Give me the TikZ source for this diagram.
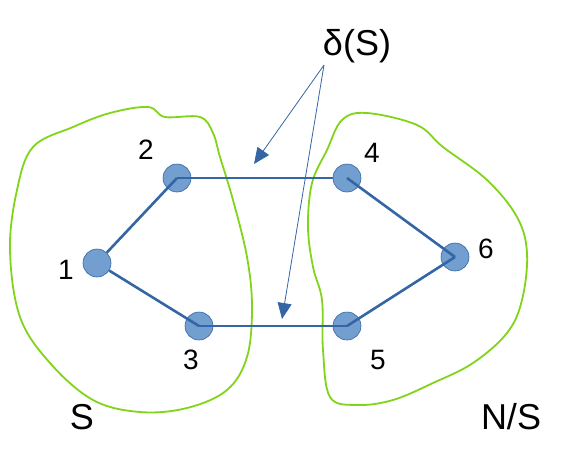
\documentclass[tikz,border=0pt]{standalone}
\usepackage{fontspec}
\setmainfont{Liberation Sans}
\usetikzlibrary{arrows.meta}
\definecolor{azul}{HTML}{3465A4}
\definecolor{celeste}{HTML}{729FCF}
\definecolor{verde}{HTML}{81D41A}
\tikzstyle{vertice} = [circle, draw=azul, fill=celeste, line width=0.6pt, minimum size=28pt, inner sep=0pt]
\tikzstyle{arista} = [draw=azul, line width=2.6pt]
\tikzstyle{conjunto} = [draw=verde, line width=1.8pt]
\tikzstyle{etiqueta} = [font=\fontsize{28}{30}\selectfont, inner sep=0pt]
\tikzstyle{titulo} = [font=\fontsize{36}{40}\selectfont, inner sep=0pt]
\tikzstyle{flecha} = [draw=azul, line width=0.8pt, -{Triangle[length=16pt,width=14pt]}]

\begin{document}
\begin{tikzpicture}[x=1pt,y=-1pt]
	\useasboundingbox (0,0) rectangle (585,456);
	% conjuntos S y N/S
	\draw[conjunto] plot[smooth cycle, tension=0.6] coordinates {(148,107) (165,117) (200,117) (213,133) (220,157) (233,200) (247,257) (252,307) (247,357) (227,390) (187,408) (140,412) (93,400) (50,363) (20,317) (10,250) (17,190) (33,147) (73,127) (110,113)};
	\draw[conjunto] plot[smooth cycle, tension=0.6] coordinates {(342,120) (367,113) (417,125) (443,147) (487,180) (517,217) (527,253) (522,300) (507,333) (473,363) (433,383) (393,400) (357,405) (330,397) (323,350) (322,300) (313,267) (308,227) (312,183) (327,150)};
	% vertices
	\node[vertice](v1) at (97,263) {};
	\node[vertice](v2) at (177,178) {};
	\node[vertice](v3) at (199,326) {};
	\node[vertice](v4) at (347,178) {};
	\node[vertice](v5) at (347,326) {};
	\node[vertice](v6) at (455,257) {};
	% aristas
	\draw[arista] (v1) -- (v2.center);
	\draw[arista] (v1) -- (v3.center);
	\draw[arista] (v2.center) -- (v4);
	\draw[arista] (v3.center) -- (v5.center);
	\draw[arista] (v4.center) -- (v6.center);
	\draw[arista] (v5.center) -- (v6.center);
	% etiquetas
	\node[etiqueta](e1) at (66,270) {1};
	\node[etiqueta](e2) at (146,150) {2};
	\node[etiqueta](e3) at (191,360) {3};
	\node[etiqueta](e4) at (372,153) {4};
	\node[etiqueta](e5) at (378,360) {5};
	\node[etiqueta](e6) at (486,249) {6};
	\node[titulo](eS) at (82,417) {S};
	\node[titulo](eNS) at (511,417) {N/S};
	\node[titulo](corte) at (357,46) {δ(S)};
	% flechas al corte
	\coordinate (origen) at (324,65);
	\coordinate (punta1) at (254,164);
	\coordinate (punta2) at (282,319);
	\draw[flecha] (origen) -- (punta1);
	\draw[flecha] (origen) -- (punta2);
\end{tikzpicture}
\end{document}
